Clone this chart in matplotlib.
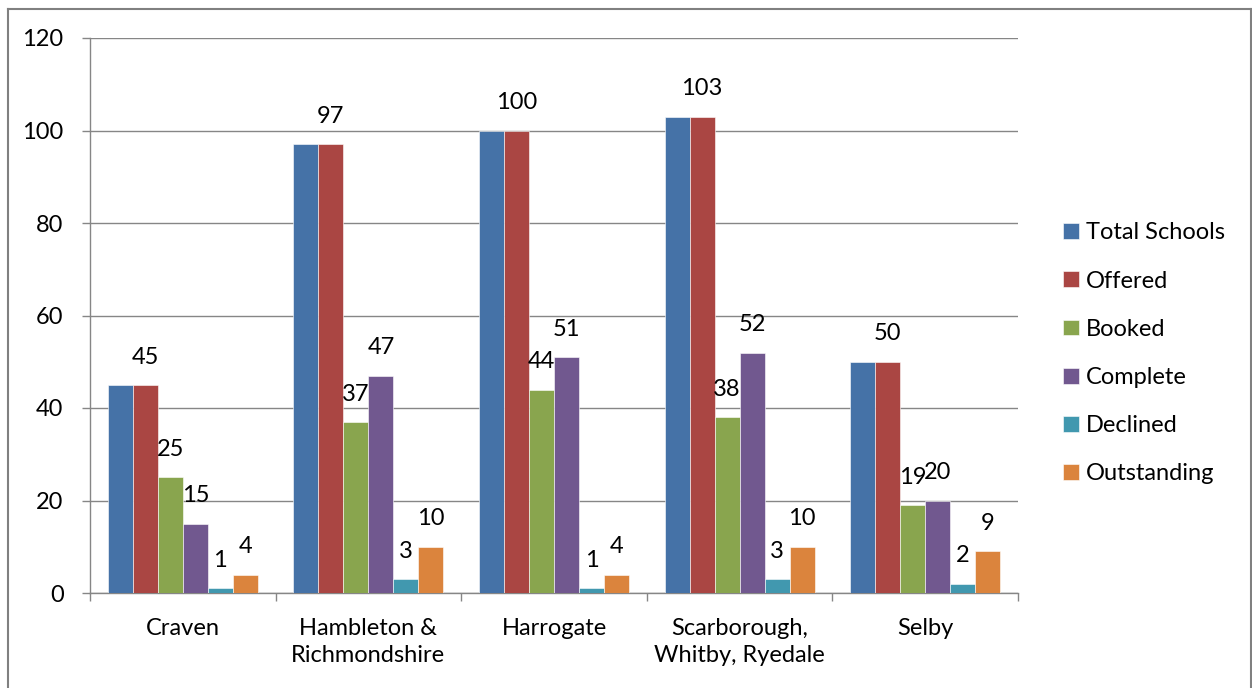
import numpy as np
import matplotlib.pyplot as plt
from matplotlib.lines import Line2D

plt.rcParams['font.family'] = ['Lato', 'DejaVu Sans']

# data
categories = ['Craven', 'Hambleton &\nRichmondshire', 'Harrogate',
              'Scarborough,\nWhitby, Ryedale', 'Selby']
series_names = ['Total Schools', 'Offered', 'Booked', 'Complete', 'Declined', 'Outstanding']
total_schools = [45, 97, 100, 103, 50]
offered = [45, 97, 100, 103, 50]
booked = [25, 37, 44, 38, 19]
complete = [15, 47, 51, 52, 20]
declined = [1, 3, 1, 3, 2]
outstanding = [4, 10, 4, 10, 9]
y_ticks = [0, 20, 40, 60, 80, 100, 120]

series = [total_schools, offered, booked, complete, declined, outstanding]
colors = ['#4572A7', '#AA4643', '#89A54E', '#71588F', '#4198AF', '#DB843D']
labelled = [False, True, True, True, True, True]

FS = 17
W, H = 1252, 688
fig = plt.figure(figsize=(W / 100, H / 100), dpi=100)
ax = fig.add_axes([90 / W, 1 - 593 / H, (1018 - 90) / W, (593 - 38) / H])

x = np.arange(len(categories))
bw = 0.1346
for k, (vals, name, c) in enumerate(zip(series, series_names, colors)):
    pos = x + (k - 2.5) * bw
    ax.bar(pos, vals, width=bw, color=c, label=name, edgecolor='white',
           linewidth=0.4, zorder=3)
    if labelled[k]:
        for px, v in zip(pos, vals):
            ax.annotate(str(v), (px, v), xytext=(0, 20), textcoords='offset points',
                        ha='center', va='center', fontsize=FS, color='black', zorder=4)

ax.set_xlim(-0.5, len(categories) - 0.5)
ax.set_ylim(0, 120)
ax.set_yticks(y_ticks)
ax.set_yticklabels([str(t) for t in y_ticks], fontsize=FS)
ax.grid(axis='y', color='#868686', linewidth=1.0, zorder=0)

ax.set_xticks(x)
ax.set_xticklabels(categories, fontsize=FS, va='top', linespacing=1.35)
ax.set_xticks(np.arange(len(categories) + 1) - 0.5, minor=True)
ax.tick_params(axis='x', which='major', length=0, pad=18)
ax.tick_params(axis='x', which='minor', length=6, width=1.0, color='#868686')
ax.tick_params(axis='y', length=6, width=1.0, color='#868686', pad=13)

for s in ['top', 'right']:
    ax.spines[s].set_visible(False)
for s in ['left', 'bottom']:
    ax.spines[s].set_color('#868686')
    ax.spines[s].set_linewidth(1.0)

leg = fig.legend(loc='upper left', bbox_to_anchor=(1054 / W, 1 - 213 / H),
                 frameon=False, fontsize=FS, handlelength=0.66, handleheight=0.66,
                 handletextpad=0.3, labelspacing=1.15, borderaxespad=0)

# outer chart border
bc = '#808080'
fig.add_artist(Line2D([7.5 / W, 7.5 / W], [-0.01, 1 - 8.5 / H], transform=fig.transFigure, color=bc, lw=1.5))
fig.add_artist(Line2D([7.5 / W, 1250.5 / W], [1 - 8.5 / H, 1 - 8.5 / H], transform=fig.transFigure, color=bc, lw=1.5))
fig.add_artist(Line2D([1250.5 / W, 1250.5 / W], [-0.01, 1 - 8.5 / H], transform=fig.transFigure, color=bc, lw=1.5))

fig.savefig('out.png', dpi=100)
